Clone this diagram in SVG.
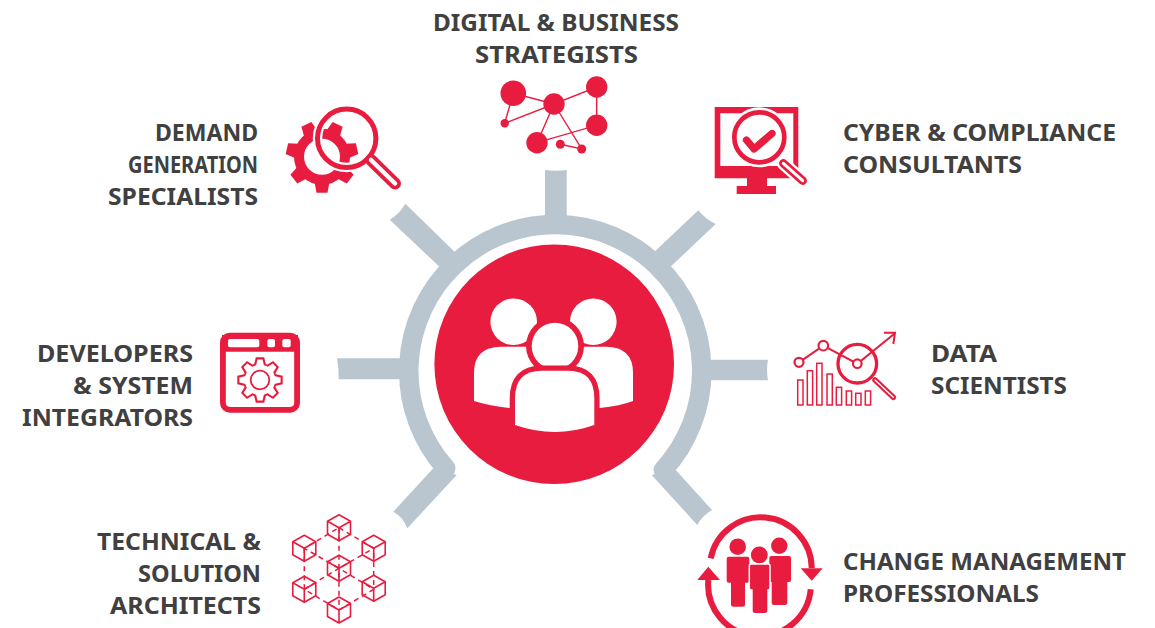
<svg xmlns="http://www.w3.org/2000/svg" xmlns:xlink="http://www.w3.org/1999/xlink" width="1155" height="628" viewBox="0 0 1155 628">
<style>
.t{font-family:"Noto Sans","Liberation Sans",sans-serif;font-weight:700;font-size:24px;fill:#404040}
.g{fill:#bac6cf}
.r{fill:#e81c3e}
.w{fill:#fff}
.ls{stroke:#e81c3e;fill:none}
.ws{stroke:#fff;fill:none}
.cap{stroke-linecap:round}
</style>
<defs>
<polygon id="tooth7" points="-7.5,-25 -5.5,-36 5.5,-36 7.5,-25"/>
<polygon id="toothR" points="-6,-15 -4.2,-22.7 4.2,-22.7 6,-15"/>
<polygon id="toothW" points="-4,-14 -2.6,-20.6 2.6,-20.6 4,-14"/>
<g id="cube" fill="none" stroke="#e81c3e" stroke-width="1.6" stroke-linejoin="round">
<path d="M0-13 11.5-6.5V6.5L0 13-11.5 6.5V-6.5ZM-11.5-6.5 0 0 11.5-6.5M0 0V13"/>
</g>
</defs>
<rect width="1155" height="628" fill="#fff"/>
<g id="connectors">
<path d="M445.7 468.3A146.5 146.5 0 1 1 663.3 470" fill="none" stroke="#bac6cf" stroke-width="19.5" stroke-linecap="round"/>
<path class="g" d="M545 170Q556 171.5 566.7 170V222H545Z"/>
<path class="g" d="M405.3 203.7Q399.6 213.8 389.7 219.7L445 272 460 257Z"/>
<path class="g" d="M698.3 210.3Q705 219 715.7 224L665 272 650 256Z"/>
<path class="g" d="M337 358.3Q339 369 338.7 379.3H405V358.3Z"/>
<path class="g" d="M768 359.7Q766 370 768 380.3H705V359.7Z"/>
<path class="g" d="M393.3 511.7Q403 517 407.3 528.3L456.7 475 433.3 468.3Z"/>
<path class="g" d="M712 510Q702.5 515.5 697.3 525L651.7 475 675.7 470Z"/>
</g>
<g id="hub">
<circle class="r" cx="554.2" cy="364.3" r="119.8"/>
<circle class="w" cx="513.7" cy="321.7" r="23.3"/>
<circle class="w" cx="593.3" cy="321.7" r="23.3"/>
<path class="w" d="M474 401V373Q474 346.7 501 346.7H540V408H509Q490 406 474 401Z"/>
<path class="w" d="M633 401V373Q633 346.7 606 346.7H568V408H600Q620 406 633 401Z"/>
<circle class="r" cx="555" cy="346" r="29"/>
<circle class="w" cx="555" cy="346" r="23.3"/>
<path class="w" stroke="#e81c3e" stroke-width="10.6" paint-order="stroke" d="M515 425V398.3Q515 370.7 541.7 370.7H568.3Q594.3 370.7 594.3 398.3V425Q555 439 515 425Z"/>
</g>
<g id="digital-strategists">
<g class="ls" stroke-width="1.4">
<path d="M513.3 93.3 554 104 596.7 87V125.3L537 142.7M513.3 93.3 504.7 123.3 554 104 537 142.7M554 104 581.7 149 560.3 144.3"/>
</g>
<g class="r">
<circle cx="513.3" cy="93.3" r="12.8"/><circle cx="554" cy="104" r="10.7"/><circle cx="596.7" cy="87" r="10.7"/><circle cx="596.7" cy="125.3" r="10.7"/><circle cx="537" cy="142.7" r="10.7"/><circle cx="504.7" cy="123.3" r="4.2"/><circle cx="560.3" cy="144.3" r="4.5"/><circle cx="581.7" cy="149" r="4.5"/>
</g>
<text class="t" x="433" y="31" textLength="246" lengthAdjust="spacingAndGlyphs">DIGITAL &amp; BUSINESS</text>
<text class="t" x="475" y="63" textLength="163" lengthAdjust="spacingAndGlyphs">STRATEGISTS</text>
</g>
<g id="demand-generation">
<g class="r" transform="translate(322 156.7)">
<use xlink:href="#tooth7" href="#tooth7" transform="rotate(180)"/><use href="#tooth7" transform="rotate(128.57)"/><use href="#tooth7" transform="rotate(77.14)"/><use href="#tooth7" transform="rotate(25.71)"/><use href="#tooth7" transform="rotate(-25.71)"/><use href="#tooth7" transform="rotate(-77.14)"/><use href="#tooth7" transform="rotate(-128.57)"/>
<circle r="23" fill="none" stroke="#e81c3e" stroke-width="10"/>
</g>
<circle class="ws" cx="346.7" cy="138.3" r="29.2" stroke-width="9.5"/>
<circle class="ls" cx="346.7" cy="138.3" r="29.2" stroke-width="5"/>
<path class="ls cap" d="M371 160 395 183.5" stroke-width="12"/>
<path class="ws cap" d="M371 160 395 183.5" stroke-width="4.5"/>
<text class="t" x="155" y="141" textLength="103" lengthAdjust="spacingAndGlyphs">DEMAND</text>
<text class="t" x="128" y="173" textLength="130" lengthAdjust="spacingAndGlyphs">GENERATION</text>
<text class="t" x="108" y="205" textLength="150" lengthAdjust="spacingAndGlyphs">SPECIALISTS</text>
</g>
<g id="cyber-compliance">
<path class="r" fill-rule="evenodd" d="M714.7 107H798.3V178.3H714.7ZM720.3 113.3V166H793.3V113.3Z"/>
<rect class="r" x="747" y="178" width="20" height="9"/>
<rect class="r" x="736.7" y="186" width="39.3" height="8"/>
<circle class="w" cx="759.3" cy="137.3" r="30"/>
<circle class="ls" cx="759.3" cy="137.3" r="25" stroke-width="4.7"/>
<path class="ws cap" d="M783.3 163.3 802.7 180.7" stroke-width="13"/>
<path class="ls cap" d="M783.3 163.3 802.7 180.7" stroke-width="8.5"/>
<path class="ws cap" d="M783.3 163.3 802.7 180.7" stroke-width="3"/>
<path class="ls cap" d="M746.5 140 754 149 772 133.5" stroke-width="7.3" stroke-linejoin="round"/>
<text class="t" x="843" y="141" textLength="273" lengthAdjust="spacingAndGlyphs">CYBER &amp; COMPLIANCE</text>
<text class="t" x="843" y="173" textLength="179" lengthAdjust="spacingAndGlyphs">CONSULTANTS</text>
</g>
<g id="developers-integrators">
<rect class="ls" x="222.9" y="335.6" width="74.2" height="74.2" rx="7" stroke-width="5.8"/>
<path class="r" d="M222 335H298V351.7H222Z"/>
<rect class="w" x="228" y="339" width="31.3" height="8.3" rx="2"/>
<rect class="w" x="267.3" y="339" width="7.7" height="8.3" rx="2"/>
<rect class="w" x="282.3" y="339" width="8.4" height="8.3" rx="2"/>
<g transform="translate(260 380)">
<g class="r"><use href="#toothR"/><use href="#toothR" transform="rotate(45)"/><use href="#toothR" transform="rotate(90)"/><use href="#toothR" transform="rotate(135)"/><use href="#toothR" transform="rotate(180)"/><use href="#toothR" transform="rotate(225)"/><use href="#toothR" transform="rotate(270)"/><use href="#toothR" transform="rotate(315)"/><circle r="17"/></g>
<g class="w"><use href="#toothW"/><use href="#toothW" transform="rotate(45)"/><use href="#toothW" transform="rotate(90)"/><use href="#toothW" transform="rotate(135)"/><use href="#toothW" transform="rotate(180)"/><use href="#toothW" transform="rotate(225)"/><use href="#toothW" transform="rotate(270)"/><use href="#toothW" transform="rotate(315)"/><circle r="15.2"/></g>
<circle class="ls" r="9.3" stroke-width="1.8"/>
</g>
<text class="t" x="37" y="362" textLength="156" lengthAdjust="spacingAndGlyphs">DEVELOPERS</text>
<text class="t" x="73" y="394" textLength="120" lengthAdjust="spacingAndGlyphs">&amp; SYSTEM</text>
<text class="t" x="22" y="426" textLength="171" lengthAdjust="spacingAndGlyphs">INTEGRATORS</text>
</g>
<g id="data-scientists">
<path class="ls" stroke-width="2" d="M799 362.3 823.3 345.7 857.3 363.7 895 333.3M884 332.7H895L893.3 344"/>
<circle class="w" cx="799" cy="362.3" r="4.5" stroke="#e81c3e" stroke-width="2.2"/>
<circle class="w" cx="823.3" cy="345.7" r="4.8" stroke="#e81c3e" stroke-width="2.2"/>
<circle class="w" cx="857.3" cy="363.7" r="4.3" stroke="#e81c3e" stroke-width="2.2"/>
<circle class="ls" cx="857.3" cy="363.7" r="19.3" stroke-width="3.3"/>
<path class="ls cap" d="M875 380 893.3 397.3" stroke-width="5.5"/>
<path class="ws cap" d="M875 380 893.3 397.3" stroke-width="1.3"/>
<g class="ls" stroke-width="1.5">
<rect x="797.7" y="380" width="5.3" height="25"/><rect x="807.3" y="370.7" width="5.3" height="34.3"/><rect x="816.7" y="363.3" width="5.3" height="41.7"/><rect x="827" y="374" width="5.3" height="31"/><rect x="836.3" y="387.3" width="5.3" height="17.7"/><rect x="846.3" y="391" width="5.3" height="14"/><rect x="855.7" y="393.3" width="5.3" height="11.7"/><rect x="865.3" y="391" width="5.3" height="14"/>
</g>
<text class="t" x="931" y="362" textLength="66" lengthAdjust="spacingAndGlyphs">DATA</text>
<text class="t" x="931" y="394" textLength="136" lengthAdjust="spacingAndGlyphs">SCIENTISTS</text>
</g>
<g id="technical-architects">
<path class="ls" stroke-width="1.5" stroke-dasharray="5 4" d="M339 527.7 373.7 548.3 339 568.3 304.3 548.3ZM339 527.7V610M304.3 548.3V589.3L339 610 373.7 589.3V548.3M304.3 589.3 339 568.3 373.7 589.3"/>
<use href="#cube" x="339" y="527.7"/><use href="#cube" x="373.7" y="548.3"/><use href="#cube" x="373.7" y="588.3"/><use href="#cube" x="339" y="568.3"/><use href="#cube" x="304.3" y="548.3"/><use href="#cube" x="304.3" y="589.3"/><use href="#cube" x="339" y="610"/>
<text class="t" x="97" y="550" textLength="164" lengthAdjust="spacingAndGlyphs">TECHNICAL &amp;</text>
<text class="t" x="138" y="582" textLength="123" lengthAdjust="spacingAndGlyphs">SOLUTION</text>
<text class="t" x="110" y="614" textLength="151" lengthAdjust="spacingAndGlyphs">ARCHITECTS</text>
</g>
<g id="change-management">
<path class="ls" stroke-width="6" d="M710.7 558.3A51 51 0 0 1 811.7 568M810.7 589.3A51 51 0 0 1 708.3 580"/>
<polygon class="r" points="800.7,568.3 822.7,568.3 811.7,580.7"/>
<polygon class="r" points="697.3,580 720,580 708.3,566.7"/>
<g class="r">
<circle cx="737.7" cy="546.7" r="8.3"/><circle cx="779.3" cy="545.7" r="8.2"/>
<rect x="726.7" y="556.7" width="22.6" height="26" rx="2"/><rect x="731" y="570" width="14" height="36.7" rx="2.5"/>
<rect x="769.3" y="556" width="21.7" height="26" rx="2"/><rect x="771.7" y="570" width="15.6" height="35" rx="2.5"/>
<circle cx="759.3" cy="555" r="9.2" stroke="#fff" stroke-width="1.5"/>
<rect x="749.3" y="564" width="20.7" height="26" rx="2" stroke="#fff" stroke-width="1.5"/>
<rect x="752.7" y="580" width="14.6" height="33" rx="2.5"/>
</g>
<text class="t" x="843" y="570" textLength="283" lengthAdjust="spacingAndGlyphs">CHANGE MANAGEMENT</text>
<text class="t" x="843" y="602" textLength="196" lengthAdjust="spacingAndGlyphs">PROFESSIONALS</text>
</g>
</svg>
